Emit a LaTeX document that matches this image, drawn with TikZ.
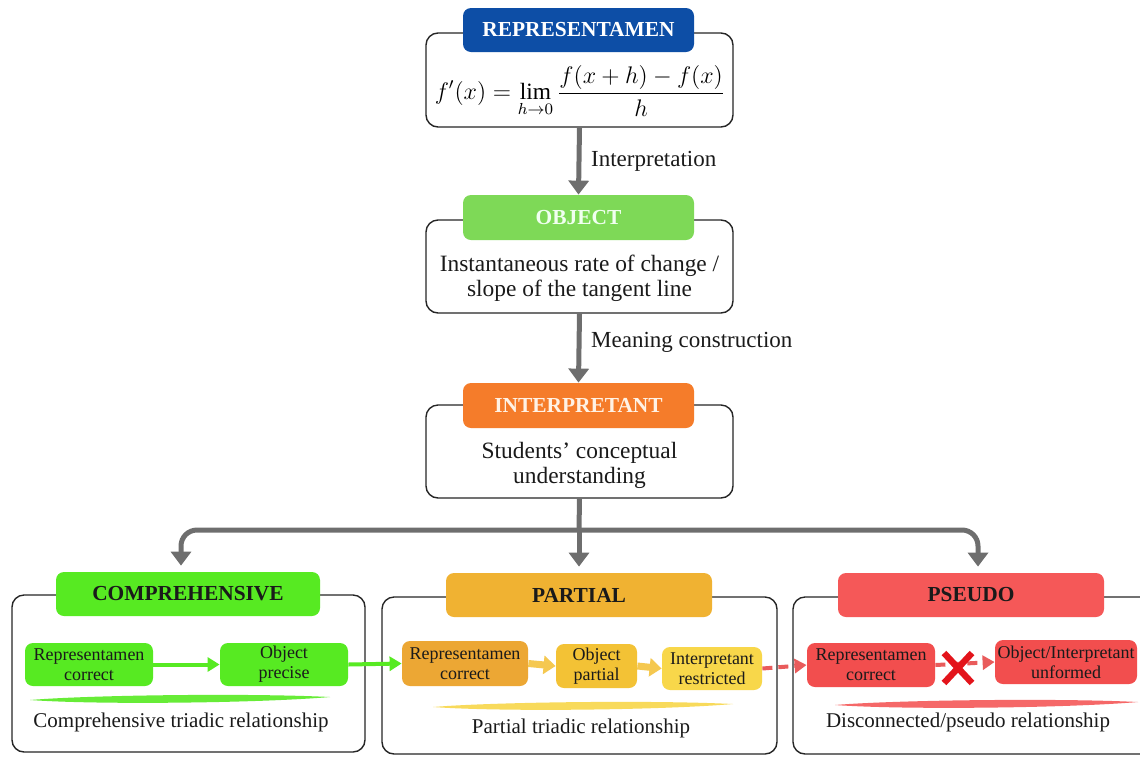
\documentclass[tikz,border=0pt]{standalone}
\usepackage{fontspec}
\setmainfont{Liberation Serif}
\usetikzlibrary{arrows.meta,calc}
\definecolor{repblue}{HTML}{0D4EA6}
\definecolor{objgreen}{HTML}{7ED957}
\definecolor{intorange}{HTML}{F57C2A}
\definecolor{compgreen}{HTML}{57EA22}
\definecolor{partgold}{HTML}{F0B232}
\definecolor{partrep}{HTML}{ECA734}
\definecolor{partobj}{HTML}{F3C235}
\definecolor{partint}{HTML}{F8D74A}
\definecolor{partarrow}{HTML}{F5C850}
\definecolor{pseudored}{HTML}{F55858}
\definecolor{pseudoinner}{HTML}{F24E4E}
\definecolor{dashred}{HTML}{E95B5B}
\definecolor{xred}{HTML}{E3141B}
\definecolor{arrowgray}{HTML}{6E6E6E}
\definecolor{inktext}{HTML}{1A1A1A}
\newcommand\brushstroke[4]{% color, x1, x2, y
  \fill[#1, opacity=0.9] (#2,#4+1) .. controls (#2+60,#4-4) and (#3-80,#4-6) .. (#3,#4-2)
     .. controls (#3-70,#4+4) and (#2+70,#4+6) .. cycle;}
\begin{document}
\begin{tikzpicture}[x=0.5pt,y=-0.5pt,
  outerbox/.style={draw=black!85, line width=0.7pt, rounded corners=6pt, fill=white, inner sep=0pt},
  hdr/.style={rounded corners=4pt, inner sep=0pt, font=\fontsize{10.7}{12}\selectfont\bfseries},
  inbox/.style={rounded corners=4pt, inner sep=0pt, align=center, text=inktext,
     font=\fontsize{9}{10}\selectfont},
  bodytext/.style={align=center, text=inktext, font=\fontsize{11.7}{12.5}\selectfont},
  labeltext/.style={text=inktext, font=\fontsize{10.5}{12}\selectfont},
  arrowlabel/.style={text=inktext, font=\fontsize{11.5}{12}\selectfont},
  garrow/.style={draw=arrowgray, line width=2.5pt, -{Triangle[width=10pt,length=7pt]}},
  greenarrow/.style={draw=compgreen, line width=2pt, -{Triangle[width=7pt,length=6pt]}},
  goldarrow/.style={draw=partarrow, line width=3.5pt, -{Triangle[width=9pt,length=6pt]}},
  redarrow/.style={draw=dashred, line width=2pt, dash pattern=on 5pt off 3pt, -{Triangle[width=7pt,length=6pt]}}]
\useasboundingbox (0,0) rectangle (1140,756);

% ---- Representamen ----
\node[outerbox, minimum width=153.5pt, minimum height=47pt] (boxR) at (579.5,80) {};
\node[hdr, fill=repblue, text=white, minimum width=115.5pt, minimum height=22pt] (hdrR) at (578.5,30) {REPRESENTAMEN};
\node (formula) at (580,91) {\fontsize{11.7}{14}\selectfont $\displaystyle f'(x)=\lim_{h\to 0}\frac{f(x+h)-f(x)}{h}$};

% ---- Object ----
\node[outerbox, minimum width=153.5pt, minimum height=46.5pt] (boxO) at (579.5,266.5) {};
\node[hdr, fill=objgreen, text=white!94!green, minimum width=115.5pt, minimum height=22.5pt] (hdrO) at (578.5,217.5) {OBJECT};
\node[bodytext] (txtO) at (579.5,278) {Instantaneous rate of change /\\slope of the tangent line};

% ---- Interpretant ----
\node[outerbox, minimum width=153.5pt, minimum height=46.5pt] (boxI) at (579.5,451.5) {};
\node[hdr, fill=intorange, text=white!90!orange, minimum width=115.5pt, minimum height=22.5pt] (hdrI) at (578.5,405.5) {INTERPRETANT};
\node[bodytext] (txtI) at (579.5,465) {Students' conceptual\\understanding};

% ---- vertical connectors ----
\draw[garrow] (boxR.south) -- (hdrO.north) node[midway, right=1.5pt, arrowlabel] {Interpretation};
\draw[garrow] (boxO.south) -- (hdrI.north) node[midway, right=1.5pt, yshift=3pt, arrowlabel] {Meaning construction};

% ---- Comprehensive panel ----
\node[outerbox, minimum width=176.5pt, minimum height=78.5pt] (boxC) at (188.5,673.5) {};
\node[hdr, fill=compgreen, text=inktext, minimum width=132pt, minimum height=22pt] (hdrC) at (188,594) {COMPREHENSIVE};
\node[inbox, fill=compgreen, minimum width=64pt, minimum height=21.5pt] (repC) at (89,664.5) {Representamen\\correct};
\node[inbox, fill=compgreen, minimum width=64pt, minimum height=21.5pt] (objC) at (284,664.5) {Object\\precise};
\brushstroke{compgreen}{30}{330}{699}
\node[labeltext] (lblC) at (181,722) {Comprehensive triadic relationship};

% ---- Partial panel ----
\node[outerbox, minimum width=197.5pt, minimum height=78.5pt] (boxP) at (579.5,675.5) {};
\node[hdr, fill=partgold, text=inktext, minimum width=133pt, minimum height=22pt] (hdrP) at (579,595) {PARTIAL};
\node[inbox, fill=partrep, minimum width=63pt, minimum height=22.5pt] (repP) at (465,663.5) {Representamen\\correct};
\node[inbox, fill=partobj, minimum width=40.5pt, minimum height=22pt] (objP) at (596.5,666) {Object\\partial};
\node[inbox, fill=partint, minimum width=50pt, minimum height=21.5pt] (intP) at (712,668.5) {Interpretant\\restricted};
\brushstroke{partint}{433}{733}{706}
\node[labeltext] (lblP) at (581,728) {Partial triadic relationship};

% ---- Pseudo panel ----
\node[outerbox, minimum width=190pt, minimum height=78.5pt] (boxPs) at (983,675.5) {};
\node[hdr, fill=pseudored, text=inktext, minimum width=133pt, minimum height=22pt] (hdrPs) at (971,595) {PSEUDO};
\node[inbox, fill=pseudoinner, minimum width=64pt, minimum height=22pt] (repPs) at (871,665) {Representamen\\correct};
\node[inbox, fill=pseudoinner, minimum width=71pt, minimum height=22pt] (objPs) at (1066,662) {Object/Interpretant\\unformed};
\brushstroke{pseudored}{835}{1138}{704}
\node[labeltext] (lblPs) at (968,722) {Disconnected/pseudo relationship};

% ---- branch connectors ----
\coordinate (split) at (579,530);
\coordinate (bl) at (181,530);
\coordinate (br) at (978,530);
\draw[arrowgray, line width=2.5pt] (boxI.south) -- (split);
\draw[garrow, rounded corners=8pt, shorten >=3pt] (split) -- (bl) -- (bl |- hdrC.north);
\draw[garrow, rounded corners=8pt, shorten >=3pt] (split) -- (br) -- (br |- hdrPs.north);
\draw[garrow, shorten >=3pt] (split) -- (hdrP.north);

% ---- inner connectors ----
\draw[greenarrow] (repC.east) -- (objC.west);
\draw[greenarrow] (objC.east) -- (repP.west);
\draw[goldarrow] (repP.east) -- (objP.west);
\draw[goldarrow] (objP.east) -- (intP.west);
\draw[redarrow] (intP.east) -- (repPs.west);
\draw[redarrow] (repPs.east) -- (objPs.west);
\coordinate (xmark) at (958,668);
\draw[xred, line width=3.2pt] ($(xmark)+(-14,-15)$) -- ($(xmark)+(14,15)$);
\draw[xred, line width=3.2pt] ($(xmark)+(-14,15)$) -- ($(xmark)+(14,-15)$);
\end{tikzpicture}
\end{document}
